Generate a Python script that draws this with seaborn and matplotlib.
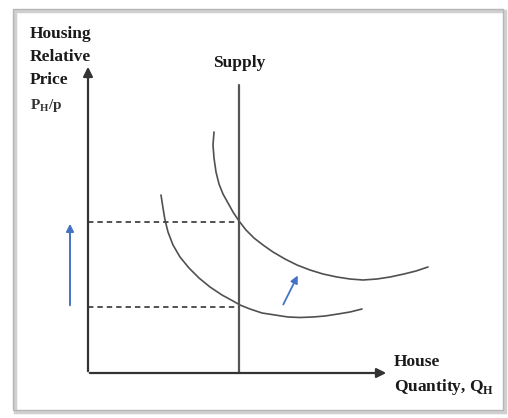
import matplotlib
matplotlib.use("Agg")
import matplotlib.pyplot as plt
import seaborn as sns
import pandas as pd
from matplotlib.patches import Rectangle

# Sketch coordinates are in picture pixels (x to the right, y downward)
demand_low_x = [161, 163, 165, 168, 173, 180, 189, 199, 210, 222, 233, 240, 250, 262, 275, 288, 300, 313, 325, 338, 350, 362]
demand_low_y = [195, 208, 220, 232, 245, 257, 268, 278, 287, 295, 301, 305, 309, 313, 315, 317, 317.5, 317, 316, 314, 312, 309]

demand_high_x = [214, 213, 214, 216, 219, 223, 228, 233, 239, 246, 254, 263, 273, 285, 297, 310, 323, 337, 350, 363, 377, 390, 404, 416, 428]
demand_high_y = [132, 145, 158, 172, 184, 194, 203, 212, 221, 230, 238, 245, 252, 259, 265, 270, 274, 277, 279, 280, 279, 277, 274, 271, 267]

supply_x = 239
supply_top, axis_y = 85, 373
axis_x = 88
price_levels = [222, 307]

sns.set_style("white")
plt.rcParams['font.family'] = ['Liberation Serif', 'DejaVu Serif']

fig = plt.figure(figsize=(5.08, 4.18), dpi=100)
ax = fig.add_axes([0, 0, 1, 1])
ax.set_xlim(0, 508)
ax.set_ylim(418, 0)
ax.axis("off")

# outer frame with a soft shadow
ax.add_patch(Rectangle((15, 11), 490, 401, fill=False, ec="#d0d0d0", lw=2.5))
ax.add_patch(Rectangle((13, 9), 490, 401, fill=False, ec="#b5b5b5", lw=1.0))

curve_color = "#505050"
low = pd.DataFrame({"x": demand_low_x, "y": demand_low_y})
high = pd.DataFrame({"x": demand_high_x, "y": demand_high_y})
# estimator=None keeps every point (the upper curve doubles back in x)
sns.lineplot(data=low, x="x", y="y", sort=False, estimator=None, ax=ax, color=curve_color, lw=1.2)
sns.lineplot(data=high, x="x", y="y", sort=False, estimator=None, ax=ax, color=curve_color, lw=1.2)

# supply line
ax.plot([supply_x, supply_x], [supply_top, axis_y], color="#555555", lw=1.6)

# dashed price levels
for py in price_levels:
    ax.plot([axis_x, supply_x], [py, py], color="#444444", lw=1.3, ls=(0, (3, 2.2)))

# axes with arrows
ax.annotate("", xy=(axis_x, 64), xytext=(axis_x, axis_y + 1),
            arrowprops=dict(arrowstyle="-|>", color="#333333", lw=1.6, mutation_scale=14))
ax.annotate("", xy=(389, axis_y), xytext=(axis_x - 1, axis_y),
            arrowprops=dict(arrowstyle="-|>", color="#333333", lw=1.6, mutation_scale=14))

# blue shift arrows
blue = "#4472c4"
ax.annotate("", xy=(70, 221), xytext=(70, 308),
            arrowprops=dict(arrowstyle="-|>", color=blue, lw=1.4, mutation_scale=11))
ax.annotate("", xy=(299, 273), xytext=(282, 307),
            arrowprops=dict(arrowstyle="-|>", color=blue, lw=1.3, mutation_scale=11))

txt = dict(fontsize=12.5, fontweight="bold", color="#1a1a1a", va="center", ha="left")
ax.text(30, 34, "Housing", **txt)
ax.text(30, 57, "Relative", **txt)
ax.text(30, 80, "Price", **txt)
ax.text(30, 106, r"P$_{\mathregular{H}}$/p", fontsize=11, fontweight="bold", color="#333333", va="center", ha="left")
ax.text(239, 63, "Supply", fontsize=12.5, fontweight="bold", color="#1a1a1a", va="center", ha="center")
ax.text(394, 362, "House", **txt)
ax.text(394, 387, r"Quantity, Q$_{\mathregular{H}}$", **txt)

fig.savefig("out.png", dpi=100)
